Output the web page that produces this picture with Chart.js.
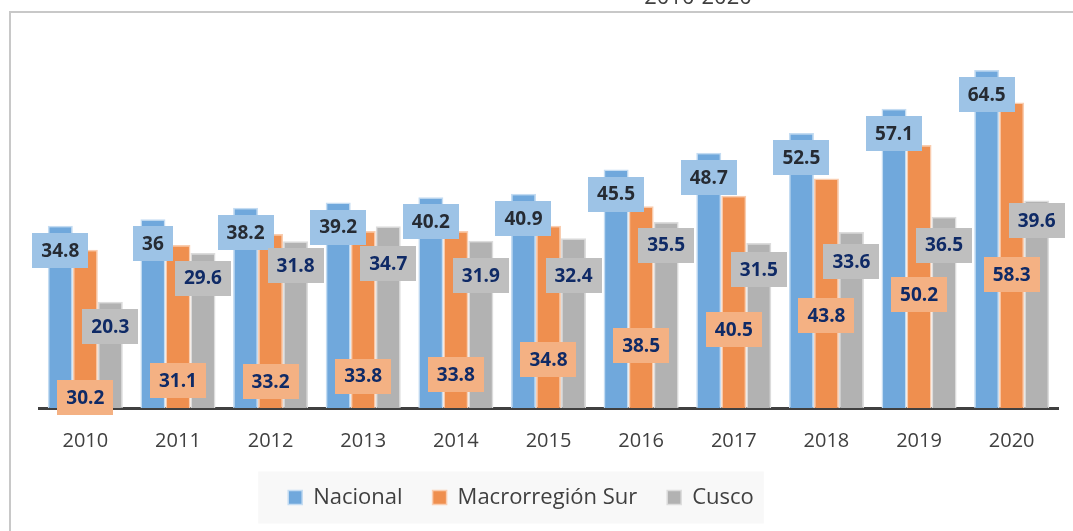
<!DOCTYPE html>
<html lang="es">
<head>
<meta charset="utf-8">
<title>Nacional, Macrorregión Sur y Cusco 2010-2020</title>
<script src="https://cdn.jsdelivr.net/npm/chart.js@4/dist/chart.umd.min.js"></script>
<style>
  html, body { margin: 0; padding: 0; background: #fff; }
  #wrap { position: relative; width: 1073px; height: 531px; }
</style>
</head>
<body>
<div id="wrap"><canvas id="grafico"></canvas></div>
<script>
// Años y valores por serie
const anios = ['2010', '2011', '2012', '2013', '2014', '2015', '2016', '2017', '2018', '2019', '2020'];
const nacional = [34.8, 36, 38.2, 39.2, 40.2, 40.9, 45.5, 48.7, 52.5, 57.1, 64.5];
const macroSur = [30.2, 31.1, 33.2, 33.8, 33.8, 34.8, 38.5, 40.5, 43.8, 50.2, 58.3];
const cusco = [20.3, 29.6, 31.8, 34.7, 31.9, 32.4, 35.5, 31.5, 33.6, 36.5, 39.6];

// Altura (en unidades del eje) del centro de cada etiqueta de Macrorregión Sur y Cusco
const posEtiquetaMacro = [2.0, 5.2, 5.0, 6.1, 6.4, 9.3, 12.0, 15.0, 17.6, 21.6, 25.5];
const posEtiquetaCusco = [15.6, 24.8, 27.1, 27.5, 25.2, 25.2, 31.1, 26.5, 27.9, 31.1, 35.7];

const FUENTE = '"Open Sans", "Noto Sans", sans-serif';

// Etiquetas con recuadro de color sobre cada barra
const etiquetas = {
    id: 'etiquetas',
    afterDatasetsDraw(chart) {
        const ctx = chart.ctx;
        const y = chart.scales.y;
        const estilos = [
            { caja: '#9DC3E6', texto: '#262B33' },
            { caja: '#F4B183', texto: '#0F2A66' },
            { caja: '#BFBFBF', texto: '#0F2A66' }
        ];
        ctx.save();
        ctx.font = 'bold 19px ' + FUENTE;
        ctx.textAlign = 'center';
        ctx.textBaseline = 'middle';
        chart.data.datasets.forEach(function(ds, d) {
            chart.getDatasetMeta(d).data.forEach(function(barra, i) {
                let cy;
                if (d === 0) cy = barra.y + 24.5;
                else if (d === 1) cy = y.getPixelForValue(posEtiquetaMacro[i]);
                else cy = y.getPixelForValue(posEtiquetaCusco[i]);
                const txt = String(ds.data[i]);
                const w = ctx.measureText(txt).width + 18;
                const h = 35;
                ctx.fillStyle = estilos[d].caja;
                ctx.fillRect(Math.round(barra.x - w / 2), Math.round(cy - h / 2), Math.round(w), h);
                ctx.fillStyle = estilos[d].texto;
                ctx.fillText(txt, barra.x, cy + 1);
            });
        });
        ctx.restore();
    }
};

// La leyenda va un poco más a la izquierda y más arriba que su sitio por defecto
const moverLeyenda = {
    id: 'moverLeyenda',
    afterLayout(chart) {
        const ley = chart.legend;
        const dx = -27.5, dy = -17.5;
        ley.left += dx; ley.right += dx;
        ley.top += dy; ley.bottom += dy;
    }
};

// Marco, título recortado y fondo de la leyenda
const fondo = {
    id: 'fondo',
    beforeDraw(chart) {
        const ctx = chart.ctx;
        ctx.save();
        ctx.fillStyle = '#fff';
        ctx.fillRect(0, 0, chart.width, chart.height);
        ctx.strokeStyle = '#C8C8C8';
        ctx.lineWidth = 2;
        ctx.beginPath();
        ctx.moveTo(10, chart.height);
        ctx.lineTo(10, 12);
        ctx.lineTo(chart.width, 12);
        ctx.stroke();

        ctx.fillStyle = '#404040';
        ctx.font = '22px ' + FUENTE;
        ctx.textAlign = 'center';
        ctx.textBaseline = 'alphabetic';
        ctx.fillText('2010-2020', 698, 4);

        const cajas = chart.legend.legendHitBoxes;
        if (cajas && cajas.length) {
            const izq = Math.min.apply(null, cajas.map(c => c.left));
            const der = Math.max.apply(null, cajas.map(c => c.left + c.width));
            const cy = cajas[0].top + cajas[0].height / 2;
            ctx.fillStyle = '#F8F8F8';
            ctx.fillRect(izq - 30, cy - 26, der - izq + 40, 52);
        }
        ctx.restore();
    }
};

const config = {
    type: 'bar',
    data: {
        labels: anios,
        datasets: [
            {
                label: 'Nacional',
                data: nacional,
                backgroundColor: '#70A8DC',
                borderColor: '#C4DCF2',
                borderWidth: 1.5
            },
            {
                label: 'Macrorregión Sur',
                data: macroSur,
                backgroundColor: '#EF8F4F',
                borderColor: '#F9CDB0',
                borderWidth: 1.5
            },
            {
                label: 'Cusco',
                data: cusco,
                backgroundColor: '#B2B2B2',
                borderColor: '#DCDCDC',
                borderWidth: 1.5
            }
        ]
    },
    options: {
        responsive: true,
        maintainAspectRatio: false,
        animation: false,
        datasets: {
            bar: { categoryPercentage: 0.81, barPercentage: 1.0 }
        },
        layout: {
            padding: { left: 39, right: 15, top: 15, bottom: -5 }
        },
        scales: {
            x: {
                grid: { display: false, drawTicks: false },
                border: { display: true, color: '#404040', width: 3 },
                ticks: {
                    color: '#404040',
                    font: { family: FUENTE, size: 20 },
                    padding: 21
                }
            },
            y: {
                display: false,
                min: 0,
                max: 75
            }
        },
        plugins: {
            legend: {
                position: 'bottom',
                labels: {
                    color: '#404040',
                    font: { family: FUENTE, size: 22 },
                    boxWidth: 14,
                    boxHeight: 14,
                    padding: 30
                }
            },
            tooltip: { enabled: false }
        }
    },
    plugins: [fondo, moverLeyenda, etiquetas]
};

window.onload = function() {
    new Chart(document.getElementById('grafico'), config);
};
</script>
</body>
</html>
